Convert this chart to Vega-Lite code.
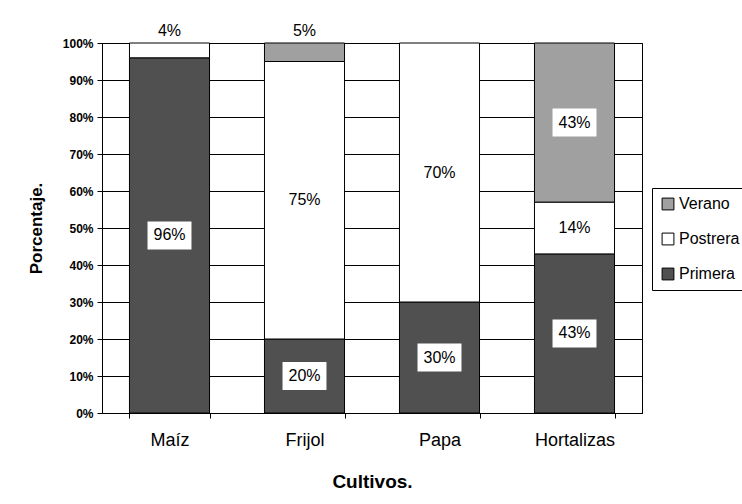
{
  "$schema": "https://vega.github.io/schema/vega-lite/v6.json",
  "width": 540,
  "height": 370,
  "autosize": {"type": "none"},
  "padding": {"left": 102, "top": 43, "right": 100, "bottom": 91},
  "background": "white",
  "config": {
    "font": "Liberation Sans",
    "view": {"stroke": "black", "strokeWidth": 1},
    "axisX": {
      "labelAngle": 0, "tickBand": "extent",
      "labelFontSize": 18, "labelColor": "black", "labelPadding": 13,
      "titleFontSize": 19, "titleFontWeight": "bold", "titleColor": "black", "titlePadding": 23,
      "domainColor": "black", "tickColor": "black", "tickSize": 5, "grid": false
    },
    "axisY": {
      "labelOverlap": false,
      "grid": true, "gridColor": "black", "gridOpacity": 1,
      "domainColor": "black", "tickColor": "black", "tickSize": 5,
      "labelFontSize": 12, "labelFontWeight": "bold", "labelColor": "black", "labelPadding": 4,
      "titleFontSize": 17, "titleFontWeight": "bold", "titleColor": "black", "titlePadding": 17
    }
  },
  "data": {
    "values": [
      {"cultivo": "Maíz", "temporada": "Primera", "orden": 1, "valor": 96},
      {"cultivo": "Maíz", "temporada": "Postrera", "orden": 2, "valor": 4},
      {"cultivo": "Frijol", "temporada": "Primera", "orden": 1, "valor": 20},
      {"cultivo": "Frijol", "temporada": "Postrera", "orden": 2, "valor": 75},
      {"cultivo": "Frijol", "temporada": "Verano", "orden": 3, "valor": 5},
      {"cultivo": "Papa", "temporada": "Primera", "orden": 1, "valor": 30},
      {"cultivo": "Papa", "temporada": "Postrera", "orden": 2, "valor": 70},
      {"cultivo": "Hortalizas", "temporada": "Primera", "orden": 1, "valor": 43},
      {"cultivo": "Hortalizas", "temporada": "Postrera", "orden": 2, "valor": 14},
      {"cultivo": "Hortalizas", "temporada": "Verano", "orden": 3, "valor": 43}
    ]
  },
  "transform": [
    {"stack": "valor", "groupby": ["cultivo"], "sort": [{"field": "orden", "order": "ascending"}], "as": ["y0", "y1"]},
    {"calculate": "datum.valor < 10 ? 103.3 : (datum.y0 + datum.y1) / 2", "as": "ly"},
    {"calculate": "datum.valor + '%'", "as": "etiqueta"}
  ],
  "layer": [
    {
      "mark": {"type": "bar", "stroke": "black", "strokeWidth": 1},
      "encoding": {
        "x": {
          "field": "cultivo", "type": "nominal",
          "sort": ["Maíz", "Frijol", "Papa", "Hortalizas"],
          "scale": {"paddingInner": 0.407, "paddingOuter": 0.2035},
          "axis": {"title": "Cultivos."}
        },
        "y": {
          "field": "y0", "type": "quantitative",
          "scale": {"domain": [0, 100], "nice": false},
          "axis": {"title": "Porcentaje.", "values": [0, 10, 20, 30, 40, 50, 60, 70, 80, 90, 100], "labelExpr": "datum.value + '%'"}
        },
        "y2": {"field": "y1"},
        "fill": {
          "field": "temporada", "type": "nominal",
          "scale": {"domain": ["Verano", "Postrera", "Primera"], "range": ["#a0a0a0", "#ffffff", "#505050"]},
          "legend": {
            "title": null, "orient": "none", "legendX": 550, "legendY": 145,
            "strokeColor": "black", "fillColor": "white", "padding": 8,
            "symbolType": "square", "symbolSize": 140, "symbolStrokeColor": "black", "symbolStrokeWidth": 1,
            "labelFontSize": 16, "labelColor": "black", "rowPadding": 19, "labelOffset": 3
          }
        }
      }
    },
    {
      "transform": [{"filter": "datum.valor >= 10"}],
      "mark": {"type": "point", "shape": "M-1.57,-1H1.57V1H-1.57Z", "size": 784, "filled": true, "fill": "white", "opacity": 1, "strokeWidth": 0},
      "encoding": {
        "x": {"field": "cultivo", "type": "nominal", "sort": ["Maíz", "Frijol", "Papa", "Hortalizas"], "axis": {"title": "Cultivos."}},
        "y": {"field": "ly", "type": "quantitative", "axis": {"title": "Porcentaje.", "values": [0, 10, 20, 30, 40, 50, 60, 70, 80, 90, 100], "labelExpr": "datum.value + '%'"}}
      }
    },
    {
      "mark": {"type": "text", "fontSize": 16, "color": "black", "baseline": "middle"},
      "encoding": {
        "x": {"field": "cultivo", "type": "nominal", "sort": ["Maíz", "Frijol", "Papa", "Hortalizas"], "axis": {"title": "Cultivos."}},
        "y": {"field": "ly", "type": "quantitative", "axis": {"title": "Porcentaje.", "values": [0, 10, 20, 30, 40, 50, 60, 70, 80, 90, 100], "labelExpr": "datum.value + '%'"}},
        "text": {"field": "etiqueta"}
      }
    }
  ]
}
